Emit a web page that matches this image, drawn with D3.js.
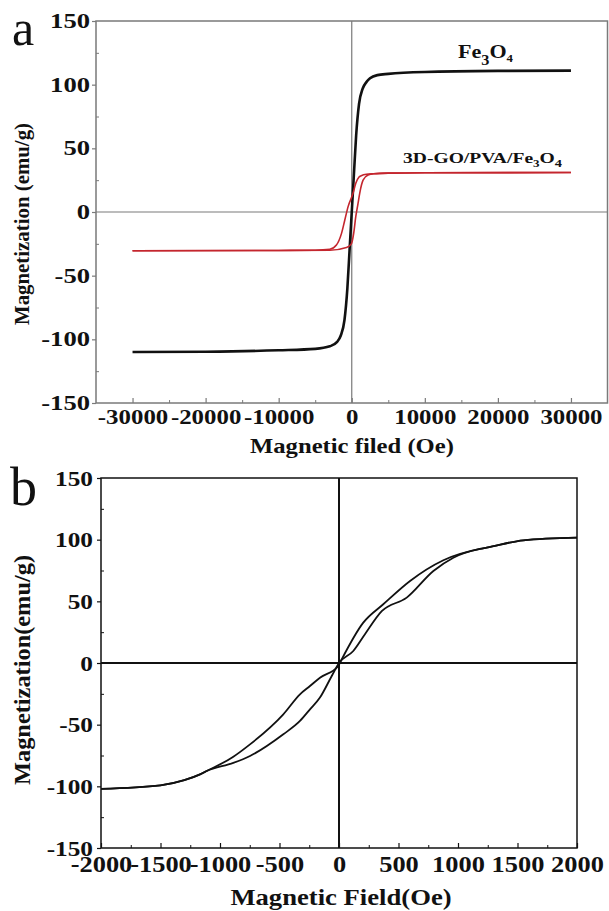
<!DOCTYPE html>
<html>
<head>
<meta charset="UTF-8">
<title>Magnetic hysteresis loops</title>
<style>
body { margin: 0; background: #fff; }
text { font-family: "Liberation Serif", "Times New Roman", Times, serif; font-weight: bold; fill: #111; }
</style>
</head>
<body>
<script src="https://cdn.jsdelivr.net/npm/d3@7"></script>
<script>
// ---- panel a : Fe3O4 and 3D-GO/PVA/Fe3O4, +-30000 Oe ----
var fieldFe = [-30000, -20000, -10000, -5000, -3000, -2000, -1500, -1000, -600, -300, 0, 300, 600, 1000, 1500, 2000, 2500, 3500, 5000, 10000, 20000, 30000];
var magFe   = [-110, -109.7, -108.6, -107.5, -105.5, -102, -97, -85, -60, -30, 0, 30, 60, 85, 97, 102, 105, 107.5, 108.5, 110, 110.8, 111];

// descending branch of the composite (shifted to negative field)
var fieldCompDown = [-30000, -10000, -5000, -3000, -2100, -1400, -950, -500, 180, 550, 1000, 1300, 2000, 3000, 5000, 10000, 30000];
var magCompDown   = [-30.4, -30.2, -30, -29.3, -26, -16.8, -6.3, 4.2, 14.7, 22.5, 27.5, 28.5, 29.6, 30, 30.5, 30.8, 31];
// ascending branch of the composite
var fieldCompUp = [-30000, -10000, -3000, -720, -50, 270, 550, 860, 1090, 1550, 2230, 3000, 5000, 10000, 30000];
var magCompUp   = [-30.4, -30.2, -30, -27.8, -25, -16.6, -3.7, 6.8, 14.7, 25, 29, 30, 30.5, 30.8, 31];

var ticksAx = [-30000, -20000, -10000, 0, 10000, 20000, 30000];
var minorAx = [-25000, -15000, -5000, 5000, 15000, 25000];
var ticksAy = [-150, -100, -50, 0, 50, 100, 150];
var minorAy = [-125, -75, -25, 25, 75, 125];

// ---- panel b : Fe3O4 loop, +-2000 Oe ----
var fieldBDown = [-2000, -1500, -1300, -1168, -1112, -888, -748, -468, -328, -244, -160, -6, 8, 204, 372, 597, 877, 1185, 1241, 1549, 2000];
var magBDown   = [-102, -99.2, -95, -90.3, -87.6, -76, -66, -41.6, -25.4, -18.7, -11.9, -2.4, 0.2, 32.7, 47.6, 66.5, 83.3, 92.5, 93.5, 99.5, 101.6];
var fieldBUp = [-2000, -1500, -1300, -1168, -1112, -888, -748, -468, -328, -244, -160, -61, 0, 120, 218, 359, 569, 793, 961, 1185, 1241, 1549, 2000];
var magBUp   = [-102, -99.2, -95, -90.3, -87.6, -81, -75.4, -57.8, -47, -37.6, -28, -10.5, 0, 9.7, 23.3, 42, 53, 74.6, 85.4, 92.5, 93.5, 99.5, 101.6];

var ticksBx = [-2000, -1500, -1000, -500, 0, 500, 1000, 1500, 2000];
var minorBx = [-1750, -1250, -750, -250, 250, 750, 1250, 1750];
var ticksBy = [-150, -100, -50, 0, 50, 100, 150];
var minorBy = [-125, -75, -25, 25, 75, 125];

var width = 609;
var height = 911;
var svg = d3.select("body").append("svg").attr("width", width).attr("height", height);

function zip(xs, ys) {
  return xs.map(function(x, i) { return { h: x, m: ys[i] }; });
}

// the source image is stretched sideways, so widen the glyphs
function stretch(sel, k) {
  sel.each(function() {
    var w = this.getComputedTextLength();
    d3.select(this).attr("textLength", w * k).attr("lengthAdjust", "spacingAndGlyphs");
  });
}

// plain hyphen, no thousands separator
function plain(d) { return String(d); }

function panel(o) {
  var g = svg.append("g");
  var x = o.x, y = o.y;
  var x0 = x.range()[0], x1 = x.range()[1];
  var yb = y.range()[0], yt = y.range()[1];

  // zero lines
  g.append("line").attr("x1", x0).attr("x2", x1).attr("y1", y(0)).attr("y2", y(0))
    .attr("stroke", o.frame).attr("stroke-width", o.zeroWidth);
  g.append("line").attr("x1", x(0)).attr("x2", x(0)).attr("y1", yt).attr("y2", yb)
    .attr("stroke", o.frame).attr("stroke-width", o.zeroWidth);

  // frame
  g.append("rect").attr("x", x0).attr("y", yt).attr("width", x1 - x0).attr("height", yb - yt)
    .attr("fill", "none").attr("stroke", o.frame).attr("stroke-width", o.frameWidth);

  // x axis
  var ax = g.append("g").attr("transform", "translate(0," + yb + ")")
    .call(d3.axisBottom(x).tickValues(o.tx).tickFormat(plain).tickSizeInner(-5).tickSizeOuter(0).tickPadding(o.xPad));
  ax.attr("font-family", null);
  ax.select(".domain").remove();
  ax.selectAll("line").attr("stroke", o.frame).attr("stroke-width", 1.2);
  ax.selectAll("text").style("font-size", o.xFont + "px").attr("fill", "#111").call(stretch, o.xStretch);
  var axm = g.append("g").attr("transform", "translate(0," + yb + ")")
    .call(d3.axisBottom(x).tickValues(o.mx).tickSize(-3).tickFormat(""));
  axm.select(".domain").remove();
  axm.selectAll("line").attr("stroke", o.frame);

  // y axis
  var ay = g.append("g").attr("transform", "translate(" + x0 + ",0)")
    .call(d3.axisLeft(y).tickValues(o.ty).tickFormat(plain).tickSizeInner(4).tickSizeOuter(0).tickPadding(o.yPad));
  ay.attr("font-family", null);
  ay.select(".domain").remove();
  ay.selectAll("line").attr("stroke", o.frame).attr("stroke-width", 1.2);
  ay.selectAll("text").style("font-size", o.yFont + "px").attr("fill", "#111").call(stretch, o.yStretch);
  var aym = g.append("g").attr("transform", "translate(" + x0 + ",0)")
    .call(d3.axisLeft(y).tickValues(o.my).tickSize(-3).tickFormat(""));
  aym.select(".domain").remove();
  aym.selectAll("line").attr("stroke", o.frame);

  var line = d3.line()
    .x(function(d) { return x(d.h); })
    .y(function(d) { return y(d.m); })
    .curve(d3.curveMonotoneX);

  o.series.forEach(function(s) {
    g.append("path")
      .datum(s.data)
      .attr("fill", "none")
      .attr("stroke", s.color)
      .attr("stroke-width", s.width)
      .attr("stroke-linejoin", "round")
      .attr("d", line);
  });
  return g;
}

// panel a
var xA = d3.scaleLinear().domain([-35000, 35000]).range([96, 607.5]);
var yA = d3.scaleLinear().domain([-150, 150]).range([403, 21]);
panel({
  x: xA, y: yA, tx: ticksAx, mx: minorAx, ty: ticksAy, my: minorAy,
  frame: "#7a7a7a", frameWidth: 1.5, zeroWidth: 1.2,
  xFont: 22, xStretch: 1.13, xPad: 5,
  yFont: 20, yStretch: 1.33, yPad: 2,
  series: [
    { data: zip(fieldFe, magFe), color: "#111", width: 2.6 },
    { data: zip(fieldCompDown, magCompDown), color: "#c4262e", width: 1.6 },
    { data: zip(fieldCompUp, magCompUp), color: "#c4262e", width: 1.6 }
  ]
});

// panel b
var xB = d3.scaleLinear().domain([-2000, 2000]).range([101, 577]);
var yB = d3.scaleLinear().domain([-150, 150]).range([848, 478]);
panel({
  x: xB, y: yB, tx: ticksBx, mx: minorBx, ty: ticksBy, my: minorBy,
  frame: "#111", frameWidth: 1.5, zeroWidth: 2,
  xFont: 24, xStretch: 1.1, xPad: 7,
  yFont: 22, yStretch: 1.15, yPad: 4,
  series: [
    { data: zip(fieldBDown, magBDown), color: "#111", width: 1.8 },
    { data: zip(fieldBUp, magBUp), color: "#111", width: 1.8 }
  ]
});

// axis titles
svg.append("text").attr("x", 352).attr("y", 453).attr("text-anchor", "middle")
  .style("font-size", "22px").text("Magnetic filed (Oe)").call(stretch, 1.12);
svg.append("text").attr("transform", "translate(29,224) rotate(-90)").attr("text-anchor", "middle")
  .style("font-size", "21px").text("Magnetization (emu/g)").attr("textLength", 202).attr("lengthAdjust", "spacingAndGlyphs");

svg.append("text").attr("x", 341).attr("y", 905).attr("text-anchor", "middle")
  .style("font-size", "24px").text("Magnetic Field(Oe)").call(stretch, 1.11);
svg.append("text").attr("transform", "translate(30,670) rotate(-90)").attr("text-anchor", "middle")
  .style("font-size", "24px").text("Magnetization(emu/g)").attr("textLength", 230).attr("lengthAdjust", "spacingAndGlyphs");

// series labels
var lab1 = svg.append("text").attr("x", 458).attr("y", 58).style("font-size", "19px");
lab1.append("tspan").text("Fe");
lab1.append("tspan").attr("dy", 7).style("font-size", "14px").text("3");
lab1.append("tspan").attr("dy", -7).text("O");
lab1.append("tspan").attr("dy", 4).style("font-size", "11px").text("4");
lab1.attr("textLength", 55).attr("lengthAdjust", "spacingAndGlyphs");

var lab2 = svg.append("text").attr("x", 403).attr("y", 163).style("font-size", "15px");
lab2.append("tspan").text("3D-GO/PVA/Fe");
lab2.append("tspan").attr("dy", 4).style("font-size", "10px").text("3");
lab2.append("tspan").attr("dy", -4).text("O");
lab2.append("tspan").attr("dy", 4).style("font-size", "11px").text("4");
lab2.attr("textLength", 159).attr("lengthAdjust", "spacingAndGlyphs");

// panel letters
svg.append("text").attr("x", 12).attr("y", 45).style("font-size", "50px").style("font-weight", "normal").text("a");
svg.append("text").attr("x", 10).attr("y", 505).style("font-size", "54px").style("font-weight", "normal").text("b");
</script>
</body>
</html>
